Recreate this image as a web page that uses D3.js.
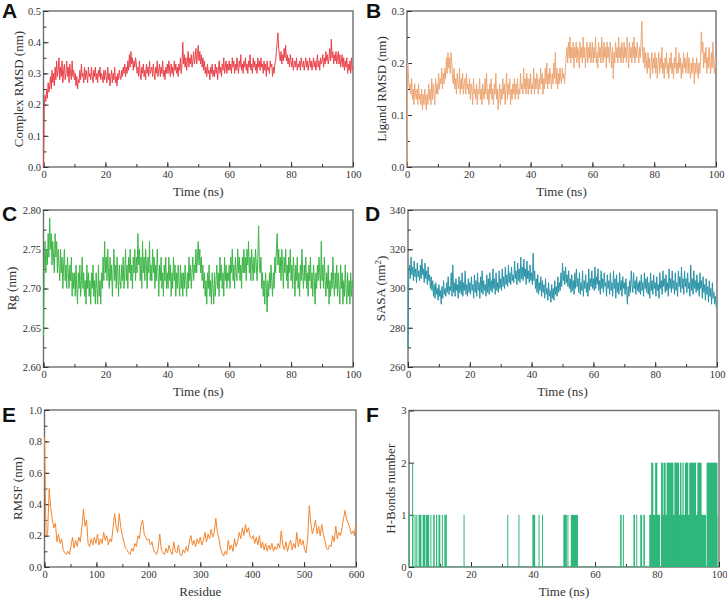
<!DOCTYPE html>
<html>
<head>
<meta charset="utf-8">
<script src="https://cdn.jsdelivr.net/npm/d3@7"></script>
<style>
  body { margin: 0; background: #fff; }
  svg { display: block; }
  text { font-family: "Liberation Serif", "Times New Roman", serif; font-weight: 400; fill: #333; }
  .letter { font-family: "Liberation Sans", Arial, sans-serif; font-weight: 700; font-size: 21px; fill: #111; }
</style>
</head>
<body>
<svg id="fig" width="727" height="602"></svg>
<script>
// sampling step of the trajectories (ns) and of the RMSF profile (residues)
const timeStep = 0.25;
const residueStep = 3;

// A - complex RMSD (nm), every 0.25 ns
const complexRmsd = [
  0, 0.19, 0.23, 0.21, 0.25, 0.22, 0.27, 0.24, 0.26, 0.29, 0.25, 0.31, 0.27, 0.30, 0.26, 0.32, 0.28, 0.34, 0.29, 0.31,
  0.35, 0.28, 0.32, 0.29, 0.34, 0.27, 0.31, 0.33, 0.28, 0.30, 0.34, 0.29, 0.32, 0.27, 0.33, 0.30, 0.28, 0.34, 0.29, 0.31,
  0.28, 0.30, 0.26, 0.29, 0.25, 0.28, 0.27, 0.31, 0.28, 0.33, 0.29, 0.30, 0.27, 0.32, 0.28, 0.31, 0.29, 0.27, 0.32, 0.29,
  0.30, 0.28, 0.32, 0.29, 0.27, 0.31, 0.29, 0.32, 0.28, 0.30, 0.27, 0.31, 0.29, 0.32, 0.28, 0.30, 0.29, 0.27, 0.31, 0.28,
  0.31, 0.29, 0.27, 0.32, 0.28, 0.30, 0.26, 0.29, 0.31, 0.27, 0.30, 0.28, 0.32, 0.27, 0.29, 0.26, 0.30, 0.28, 0.31, 0.29,
  0.28, 0.31, 0.29, 0.32, 0.30, 0.33, 0.29, 0.32, 0.30, 0.34, 0.31, 0.36, 0.32, 0.37, 0.33, 0.35, 0.31, 0.34, 0.32, 0.35,
  0.33, 0.30, 0.32, 0.29, 0.34, 0.30, 0.28, 0.32, 0.30, 0.33, 0.29, 0.31, 0.28, 0.33, 0.30, 0.32, 0.29, 0.34, 0.30, 0.31,
  0.32, 0.29, 0.33, 0.30, 0.28, 0.32, 0.30, 0.34, 0.29, 0.31, 0.33, 0.29, 0.32, 0.30, 0.34, 0.29, 0.31, 0.28, 0.32, 0.30,
  0.33, 0.30, 0.34, 0.31, 0.29, 0.33, 0.30, 0.32, 0.29, 0.34, 0.31, 0.33, 0.30, 0.32, 0.29, 0.33, 0.31, 0.35, 0.30, 0.33,
  0.40, 0.33, 0.36, 0.32, 0.35, 0.31, 0.34, 0.37, 0.32, 0.35, 0.33, 0.36, 0.32, 0.34, 0.37, 0.33, 0.35, 0.38, 0.33, 0.36,
  0.39, 0.34, 0.37, 0.33, 0.36, 0.32, 0.35, 0.31, 0.34, 0.30, 0.32, 0.29, 0.33, 0.30, 0.31, 0.28, 0.32, 0.30, 0.33, 0.29,
  0.31, 0.29, 0.33, 0.30, 0.32, 0.28, 0.31, 0.34, 0.30, 0.32, 0.29, 0.33, 0.31, 0.35, 0.30, 0.32, 0.34, 0.30, 0.33, 0.31,
  0.34, 0.31, 0.33, 0.30, 0.35, 0.32, 0.34, 0.30, 0.33, 0.31, 0.35, 0.32, 0.30, 0.34, 0.32, 0.36, 0.31, 0.33, 0.30, 0.34,
  0.32, 0.35, 0.31, 0.33, 0.30, 0.34, 0.32, 0.36, 0.31, 0.33, 0.30, 0.35, 0.32, 0.34, 0.31, 0.33, 0.30, 0.35, 0.32, 0.34,
  0.31, 0.35, 0.32, 0.33, 0.30, 0.34, 0.31, 0.33, 0.29, 0.34, 0.31, 0.32, 0.30, 0.34, 0.32, 0.33, 0.29, 0.32, 0.30, 0.33,
  0.34, 0.37, 0.40, 0.43, 0.38, 0.36, 0.34, 0.37, 0.33, 0.36, 0.34, 0.38, 0.35, 0.39, 0.34, 0.36, 0.33, 0.35, 0.32, 0.36,
  0.34, 0.32, 0.35, 0.31, 0.33, 0.34, 0.32, 0.35, 0.31, 0.33, 0.32, 0.34, 0.31, 0.35, 0.33, 0.32, 0.34, 0.31, 0.33, 0.35,
  0.32, 0.34, 0.31, 0.33, 0.35, 0.32, 0.34, 0.31, 0.33, 0.35, 0.32, 0.34, 0.31, 0.33, 0.36, 0.32, 0.34, 0.31, 0.35, 0.33,
  0.34, 0.36, 0.32, 0.35, 0.33, 0.37, 0.34, 0.36, 0.33, 0.35, 0.38, 0.34, 0.41, 0.35, 0.37, 0.33, 0.36, 0.34, 0.37, 0.33,
  0.35, 0.37, 0.33, 0.36, 0.32, 0.34, 0.36, 0.32, 0.35, 0.31, 0.34, 0.32, 0.35, 0.30, 0.33, 0.31, 0.34, 0.30, 0.35, 0.31,
  0.32
];

// B - ligand RMSD (nm)
const ligandRmsd = [
  0, 0.20, 0.17, 0.15, 0.16, 0.14, 0.17, 0.13, 0.15, 0.12, 0.16, 0.14, 0.13, 0.15, 0.12, 0.16, 0.13, 0.14, 0.12, 0.15,
  0.11, 0.14, 0.12, 0.15, 0.13, 0.11, 0.14, 0.12, 0.16, 0.13, 0.15, 0.12, 0.17, 0.13, 0.16, 0.14, 0.12, 0.17, 0.14, 0.16,
  0.14, 0.18, 0.15, 0.17, 0.16, 0.19, 0.15, 0.18, 0.16, 0.19, 0.17, 0.21, 0.18, 0.22, 0.19, 0.21, 0.18, 0.22, 0.20, 0.17,
  0.16, 0.19, 0.15, 0.17, 0.14, 0.18, 0.16, 0.15, 0.19, 0.14, 0.17, 0.15, 0.18, 0.14, 0.16, 0.17, 0.14, 0.18, 0.15, 0.16,
  0.14, 0.17, 0.13, 0.16, 0.15, 0.12, 0.17, 0.14, 0.15, 0.13, 0.16, 0.12, 0.15, 0.14, 0.17, 0.13, 0.15, 0.12, 0.16, 0.14,
  0.13, 0.17, 0.14, 0.18, 0.13, 0.15, 0.12, 0.16, 0.14, 0.17, 0.13, 0.15, 0.12, 0.16, 0.14, 0.18, 0.13, 0.15, 0.11, 0.14,
  0.16, 0.12, 0.15, 0.13, 0.17, 0.14, 0.16, 0.12, 0.15, 0.18, 0.13, 0.16, 0.14, 0.17, 0.12, 0.15, 0.13, 0.16, 0.14, 0.17,
  0.13, 0.16, 0.14, 0.17, 0.13, 0.15, 0.14, 0.18, 0.15, 0.16, 0.14, 0.19, 0.15, 0.17, 0.14, 0.18, 0.16, 0.14, 0.17, 0.15,
  0.18, 0.14, 0.16, 0.15, 0.19, 0.14, 0.17, 0.15, 0.18, 0.16, 0.14, 0.17, 0.15, 0.19, 0.16, 0.18, 0.14, 0.17, 0.15, 0.19,
  0.16, 0.20, 0.15, 0.18, 0.16, 0.19, 0.17, 0.15, 0.18, 0.16, 0.20, 0.17, 0.22, 0.16, 0.19, 0.15, 0.18, 0.16, 0.19, 0.17,
  0.16, 0.19, 0.17, 0.18, 0.16, 0.19, 0.21, 0.23, 0.20, 0.24, 0.21, 0.25, 0.20, 0.23, 0.21, 0.24, 0.19, 0.23, 0.21, 0.24,
  0.20, 0.23, 0.22, 0.19, 0.24, 0.21, 0.23, 0.20, 0.25, 0.21, 0.23, 0.19, 0.22, 0.24, 0.20, 0.23, 0.21, 0.24, 0.20, 0.22,
  0.24, 0.20, 0.23, 0.21, 0.25, 0.20, 0.22, 0.19, 0.24, 0.21, 0.23, 0.20, 0.25, 0.22, 0.20, 0.24, 0.21, 0.23, 0.19, 0.24,
  0.21, 0.23, 0.20, 0.24, 0.22, 0.19, 0.23, 0.17, 0.22, 0.20, 0.24, 0.21, 0.23, 0.20, 0.25, 0.21, 0.23, 0.20, 0.24, 0.22,
  0.20, 0.24, 0.21, 0.23, 0.20, 0.25, 0.22, 0.19, 0.24, 0.21, 0.23, 0.20, 0.24, 0.21, 0.25, 0.20, 0.23, 0.21, 0.24, 0.22,
  0.20, 0.23, 0.21, 0.24, 0.28, 0.22, 0.20, 0.23, 0.19, 0.22, 0.20, 0.18, 0.22, 0.19, 0.21, 0.17, 0.20, 0.22, 0.18, 0.21,
  0.19, 0.22, 0.18, 0.21, 0.17, 0.20, 0.22, 0.18, 0.21, 0.19, 0.23, 0.18, 0.20, 0.17, 0.21, 0.19, 0.22, 0.18, 0.20, 0.17,
  0.21, 0.19, 0.22, 0.18, 0.20, 0.17, 0.21, 0.19, 0.23, 0.18, 0.20, 0.18, 0.22, 0.19, 0.21, 0.17, 0.20, 0.18, 0.22, 0.19,
  0.21, 0.18, 0.20, 0.22, 0.18, 0.21, 0.19, 0.17, 0.20, 0.18, 0.21, 0.19, 0.16, 0.20, 0.18, 0.21, 0.19, 0.17, 0.20, 0.18,
  0.21, 0.26, 0.22, 0.24, 0.19, 0.22, 0.20, 0.23, 0.18, 0.21, 0.19, 0.23, 0.20, 0.18, 0.22, 0.19, 0.24, 0.20, 0.18, 0.21,
  0.19
];

// C - radius of gyration (nm)
const gyration = [
  2.64, 2.73, 2.76, 2.72, 2.75, 2.73, 2.77, 2.74, 2.79, 2.75, 2.77, 2.73, 2.76, 2.74, 2.72, 2.77, 2.74, 2.76, 2.72, 2.75,
  2.73, 2.71, 2.75, 2.72, 2.74, 2.70, 2.73, 2.75, 2.71, 2.73, 2.70, 2.74, 2.72, 2.70, 2.73, 2.71, 2.74, 2.69, 2.72, 2.70,
  2.72, 2.69, 2.73, 2.70, 2.68, 2.72, 2.70, 2.73, 2.69, 2.71, 2.74, 2.70, 2.72, 2.69, 2.71, 2.68, 2.73, 2.70, 2.72, 2.69,
  2.71, 2.68, 2.72, 2.70, 2.73, 2.69, 2.71, 2.68, 2.72, 2.70, 2.68, 2.73, 2.69, 2.71, 2.68, 2.72, 2.70, 2.74, 2.71, 2.76,
  2.72, 2.74, 2.71, 2.75, 2.72, 2.70, 2.74, 2.71, 2.73, 2.69, 2.72, 2.75, 2.71, 2.73, 2.70, 2.74, 2.72, 2.69, 2.73, 2.71,
  2.70, 2.73, 2.71, 2.74, 2.70, 2.72, 2.75, 2.71, 2.73, 2.70, 2.74, 2.72, 2.75, 2.71, 2.73, 2.70, 2.74, 2.72, 2.75, 2.71,
  2.74, 2.72, 2.77, 2.73, 2.75, 2.71, 2.74, 2.70, 2.76, 2.72, 2.74, 2.71, 2.75, 2.73, 2.70, 2.74, 2.72, 2.76, 2.71, 2.73,
  2.71, 2.75, 2.72, 2.74, 2.70, 2.73, 2.71, 2.75, 2.72, 2.69, 2.73, 2.71, 2.74, 2.70, 2.72, 2.69, 2.73, 2.71, 2.74, 2.70,
  2.72, 2.70, 2.74, 2.71, 2.73, 2.69, 2.72, 2.70, 2.74, 2.71, 2.73, 2.69, 2.72, 2.70, 2.73, 2.71, 2.69, 2.73, 2.70, 2.72,
  2.69, 2.72, 2.70, 2.73, 2.71, 2.69, 2.72, 2.70, 2.74, 2.71, 2.73, 2.70, 2.72, 2.74, 2.71, 2.73, 2.72, 2.75, 2.72, 2.74,
  2.76, 2.73, 2.75, 2.72, 2.74, 2.71, 2.73, 2.70, 2.72, 2.69, 2.71, 2.68, 2.72, 2.70, 2.73, 2.69, 2.71, 2.68, 2.72, 2.70,
  2.68, 2.72, 2.69, 2.71, 2.73, 2.70, 2.72, 2.69, 2.74, 2.71, 2.73, 2.70, 2.72, 2.69, 2.74, 2.71, 2.73, 2.70, 2.72, 2.71,
  2.73, 2.70, 2.74, 2.72, 2.75, 2.71, 2.73, 2.70, 2.74, 2.72, 2.71, 2.75, 2.72, 2.74, 2.71, 2.73, 2.70, 2.74, 2.72, 2.75,
  2.72, 2.74, 2.71, 2.75, 2.73, 2.76, 2.72, 2.74, 2.71, 2.75, 2.73, 2.71, 2.74, 2.72, 2.75, 2.73, 2.71, 2.74, 2.78, 2.73,
  2.72, 2.74, 2.70, 2.72, 2.69, 2.71, 2.68, 2.72, 2.70, 2.67, 2.71, 2.69, 2.72, 2.70, 2.73, 2.71, 2.69, 2.72, 2.70, 2.74,
  2.72, 2.75, 2.77, 2.73, 2.75, 2.72, 2.74, 2.71, 2.75, 2.73, 2.70, 2.74, 2.72, 2.75, 2.71, 2.73, 2.70, 2.74, 2.72, 2.75,
  2.71, 2.73, 2.70, 2.74, 2.72, 2.69, 2.73, 2.71, 2.74, 2.70, 2.72, 2.69, 2.73, 2.71, 2.75, 2.72, 2.70, 2.73, 2.71, 2.74,
  2.70, 2.72, 2.69, 2.73, 2.71, 2.74, 2.70, 2.72, 2.69, 2.73, 2.71, 2.68, 2.72, 2.70, 2.73, 2.71, 2.74, 2.72, 2.70, 2.76,
  2.71, 2.73, 2.70, 2.74, 2.71, 2.69, 2.72, 2.70, 2.73, 2.68, 2.71, 2.69, 2.72, 2.70, 2.74, 2.71, 2.69, 2.72, 2.70, 2.73,
  2.69, 2.72, 2.70, 2.68, 2.73, 2.70, 2.72, 2.68, 2.71, 2.69, 2.73, 2.70, 2.68, 2.72, 2.69, 2.71, 2.68, 2.72, 2.69, 2.71,
  2.70
];

// D - solvent accessible surface area (nm^2)
const sasa = [
  270, 308, 312, 305, 316, 307, 311, 304, 314, 306, 310, 303, 313, 306, 309, 304, 312, 305, 315, 307,
  310, 303, 313, 305, 309, 302, 311, 304, 307, 300, 306, 299, 304, 296, 302, 295, 303, 297, 300, 294,
  302, 296, 299, 292, 301, 295, 304, 297, 300, 296, 303, 298, 306, 297, 301, 299, 308, 296, 312, 298,
  303, 296, 305, 299, 302, 295, 306, 298, 304, 297, 308, 296, 303, 299, 309, 297, 302, 296, 305, 298,
  303, 297, 306, 299, 302, 295, 307, 298, 304, 296, 308, 299, 303, 295, 306, 298, 309, 297, 304, 299,
  302, 296, 307, 298, 305, 297, 308, 299, 304, 298, 310, 300, 305, 297, 308, 299, 303, 298, 309, 300,
  305, 299, 310, 301, 306, 300, 311, 302, 307, 301, 312, 303, 308, 302, 311, 304, 307, 303, 314, 305,
  309, 302, 313, 304, 310, 303, 316, 305, 311, 304, 315, 306, 310, 302, 314, 305, 309, 303, 312, 304,
  308, 302, 318, 304, 309, 300, 305, 298, 307, 297, 303, 299, 306, 296, 304, 298, 302, 295, 305, 297,
  300, 294, 303, 296, 299, 293, 302, 295, 300, 294, 304, 297, 301, 296, 306, 298, 303, 299, 308, 301,
  313, 304, 309, 302, 311, 303, 307, 301, 309, 300, 305, 298, 307, 299, 304, 297, 308, 300, 310, 301,
  305, 298, 308, 297, 303, 299, 309, 296, 304, 300, 307, 298, 303, 296, 310, 299, 305, 301, 309, 300,
  305, 299, 311, 300, 306, 302, 310, 299, 304, 297, 309, 300, 305, 298, 308, 301, 303, 296, 307, 300,
  304, 297, 308, 299, 303, 296, 309, 300, 305, 295, 307, 298, 303, 297, 308, 299, 304, 296, 306, 300,
  303, 297, 305, 299, 292, 301, 296, 304, 298, 309, 302, 298, 308, 300, 304, 297, 306, 299, 303, 298,
  304, 297, 307, 299, 303, 296, 308, 300, 305, 298, 306, 297, 303, 295, 308, 299, 304, 297, 307, 300,
  303, 296, 306, 299, 302, 295, 308, 300, 304, 297, 309, 301, 305, 298, 307, 299, 303, 296, 310, 300,
  305, 298, 309, 300, 304, 297, 308, 299, 303, 296, 309, 301, 306, 298, 311, 300, 305, 297, 309, 301,
  305, 298, 308, 300, 303, 296, 312, 299, 305, 297, 309, 300, 304, 298, 307, 299, 303, 296, 308, 300,
  304, 295, 306, 298, 302, 294, 305, 297, 301, 293, 304, 296, 300, 292, 303, 295, 298, 292, 296, 291,
  290
];

// E - RMSF per residue (nm), every 3 residues
const rmsf = [
  0.83, 0.20, 0.21, 0.50, 0.38, 0.30, 0.25, 0.28, 0.16, 0.21,
  0.15, 0.18, 0.11, 0.09, 0.08, 0.10, 0.08, 0.13, 0.19, 0.12,
  0.17, 0.13, 0.19, 0.16, 0.25, 0.37, 0.26, 0.30, 0.15, 0.13,
  0.18, 0.14, 0.19, 0.15, 0.21, 0.14, 0.18, 0.15, 0.22, 0.17,
  0.20, 0.14, 0.18, 0.16, 0.25, 0.34, 0.26, 0.22, 0.34, 0.25,
  0.20, 0.16, 0.12, 0.11, 0.09, 0.08, 0.12, 0.10, 0.15, 0.13,
  0.20, 0.18, 0.27, 0.30, 0.21, 0.19, 0.17, 0.18, 0.14, 0.16,
  0.11, 0.09, 0.08, 0.12, 0.21, 0.11, 0.09, 0.08, 0.12, 0.09,
  0.14, 0.10, 0.08, 0.16, 0.10, 0.09, 0.14, 0.08, 0.07, 0.11,
  0.09, 0.13, 0.10, 0.16, 0.20, 0.14, 0.17, 0.13, 0.18, 0.15,
  0.19, 0.14, 0.17, 0.22, 0.16, 0.21, 0.18, 0.24, 0.19, 0.22,
  0.31, 0.22, 0.18, 0.12, 0.09, 0.07, 0.10, 0.08, 0.17, 0.11,
  0.14, 0.10, 0.18, 0.13, 0.16, 0.22, 0.18, 0.25, 0.20, 0.27,
  0.22, 0.25, 0.19, 0.18, 0.20, 0.15, 0.19, 0.14, 0.20, 0.12,
  0.16, 0.11, 0.15, 0.10, 0.14, 0.11, 0.15, 0.10, 0.13, 0.11,
  0.15, 0.12, 0.23, 0.14, 0.11, 0.16, 0.10, 0.14, 0.17, 0.11,
  0.15, 0.12, 0.22, 0.13, 0.18, 0.14, 0.17, 0.11, 0.09, 0.19,
  0.39, 0.28, 0.21, 0.25, 0.30, 0.21, 0.26, 0.20, 0.27, 0.21,
  0.17, 0.12, 0.11, 0.14, 0.13, 0.20, 0.16, 0.26, 0.18, 0.22,
  0.20, 0.25, 0.31, 0.36, 0.30, 0.28, 0.25, 0.21, 0.23, 0.20,
  0.29
];

// F - hydrogen bonds: spans [from, to] (ns) holding the given count
const hbFrom = [
  0, 1.0, 1.8, 2.35, 3.1, 4.4, 5.5, 6.9, 7.8, 8.7, 9.5, 10.6, 11.4, 17.6,
  31.7, 35.3, 39.8, 41.8, 42.9, 49.8, 51.1, 52.2, 68.1, 69.0, 72.4, 73.3,
  74.6, 75.6, 77.5, 81.3, 83.7, 86.2, 96.1, 97.5, 98.4,
  1.0, 78.1, 79.4, 81.3, 82.1, 83.1, 85.6, 87.4, 88.2, 89.0, 90.4, 93.0, 96.0
];
const hbTo = [
  0.3, 1.4, 2.0, 2.7, 4.0, 5.3, 6.5, 7.2, 8.3, 9.1, 10.1, 10.9, 12.2, 17.9,
  32.0, 35.5, 40.7, 42.0, 43.1, 50.9, 51.4, 54.5, 68.6, 69.2, 72.9, 73.5,
  75.2, 76.1, 81.0, 83.5, 86.0, 95.8, 97.3, 98.2, 99.5,
  1.1, 78.8, 80.1, 81.9, 82.8, 85.3, 87.1, 87.9, 88.6, 90.1, 92.6, 94.4, 99.5
];
const hbCount = [
  1, 1, 1, 1, 1, 1, 1, 1, 1, 1, 1, 1, 1, 1,
  1, 1, 1, 1, 1, 1, 1, 1, 1, 1, 1, 1,
  1, 1, 1, 1, 1, 1, 1, 1, 1,
  2, 2, 2, 2, 2, 2, 2, 2, 2, 2, 2, 2, 2
];

const svg = d3.select('#fig');
svg.append('rect').attr('width', 727).attr('height', 602).attr('fill', '#fff');

function ticksBetween(lo, hi, step) {
  const n = Math.round((hi - lo) / step);
  return d3.range(n + 1).map(i => +(lo + i * step).toFixed(6));
}

function drawPanel(p) {
  const [x0, x1, y0, y1] = p.box;
  const x = d3.scaleLinear().domain(p.xDomain).range([x0, x1]);
  const y = d3.scaleLinear().domain(p.yDomain).range([y1, y0]);
  const g = svg.append('g');

  // frame first, so the traces sit on top of it as in the original
  g.append('rect')
    .attr('x', x0).attr('y', y0)
    .attr('width', x1 - x0).attr('height', y1 - y0)
    .attr('fill', 'none').attr('stroke', '#6e6e6e').attr('stroke-width', 1.4);

  // axes with inward ticks
  const xAxis = d3.axisBottom(x)
    .tickValues(ticksBetween(p.xDomain[0], p.xDomain[1], p.xMajor))
    .tickFormat(d3.format('d'))
    .tickSizeInner(-5).tickSizeOuter(0).tickPadding(3.5);
  const xMinor = d3.axisBottom(x)
    .tickValues(ticksBetween(p.xDomain[0], p.xDomain[1], p.xMinor))
    .tickFormat('').tickSizeInner(-3).tickSizeOuter(0);
  const yAxis = d3.axisLeft(y)
    .tickValues(ticksBetween(p.yDomain[0], p.yDomain[1], p.yMajor))
    .tickFormat(d3.format(p.yFormat))
    .tickSizeInner(-5).tickSizeOuter(0).tickPadding(2.5);

  const axes = [
    g.append('g').attr('transform', `translate(0,${y1})`).call(xAxis),
    g.append('g').attr('transform', `translate(0,${y1})`).call(xMinor),
    g.append('g').attr('transform', `translate(${x0},0)`).call(yAxis)
  ];
  if (p.yMinor) {
    const yMinor = d3.axisLeft(y)
      .tickValues(ticksBetween(p.yDomain[0], p.yDomain[1], p.yMinor))
      .tickFormat('').tickSizeInner(-3).tickSizeOuter(0);
    axes.push(g.append('g').attr('transform', `translate(${x0},0)`).call(yMinor));
  }
  axes.forEach(a => {
    a.select('.domain').remove();
    a.selectAll('line').attr('stroke', '#333');
    a.selectAll('text').attr('font-family', '"Liberation Serif", serif').attr('font-size', 10.5).attr('fill', '#333');
  });

  const clipId = 'clip' + p.letter;
  g.append('clipPath').attr('id', clipId)
    .append('rect').attr('x', x0 - 1).attr('y', y0 - 1).attr('width', x1 - x0 + 1).attr('height', y1 - y0 + 1);

  const plot = g.append('g').attr('clip-path', `url(#${clipId})`);

  if (p.series) {
    const line = d3.line()
      .x((d, i) => x(i * p.step))
      .y(d => y(d));
    plot.append('path')
      .datum(p.series)
      .attr('fill', 'none')
      .attr('stroke', p.color)
      .attr('stroke-width', 1)
      .attr('stroke-linejoin', 'round')
      .attr('d', line);
  }

  if (p.bars) {
    plot.append('line')
      .attr('x1', x(0)).attr('x2', x(100))
      .attr('y1', y(0)).attr('y2', y(0))
      .attr('stroke', p.color).attr('stroke-width', 1.2);
    plot.selectAll('rect.hb')
      .data(d3.range(hbFrom.length))
      .enter().append('rect')
      .attr('class', 'hb')
      .attr('x', i => x(hbFrom[i]))
      .attr('width', i => Math.max(1, x(hbTo[i]) - x(hbFrom[i])))
      .attr('y', i => y(hbCount[i]))
      .attr('height', i => y(0) - y(hbCount[i]))
      .attr('fill', p.color);
  }

  // titles
  g.append('text')
    .attr('x', (x0 + x1) / 2).attr('y', y1 + 28.5)
    .attr('text-anchor', 'middle').attr('font-size', 13)
    .text(p.xTitle);

  const yt = g.append('text')
    .attr('transform', `translate(${p.yTitleX},${(y0 + y1) / 2}) rotate(-90)`)
    .attr('text-anchor', 'middle').attr('dy', '0.35em').attr('font-size', 13)
    .text(p.yTitle);
  if (p.ySup) {
    yt.append('tspan').attr('dy', '-0.45em').attr('font-size', 9).text(p.ySup);
    yt.append('tspan').attr('dy', '0.45em').text(')');
  }

  g.append('text').attr('class', 'letter')
    .attr('x', p.letterPos[0]).attr('y', p.letterPos[1])
    .text(p.letter);
}

const panels = [
  { letter: 'A', letterPos: [2, 18], box: [43.5, 353, 11, 167],
    xDomain: [0, 100], xMajor: 20, xMinor: 10, yDomain: [0, 0.5], yMajor: 0.1, yMinor: 0.05, yFormat: '.1f',
    xTitle: 'Time (ns)', yTitle: 'Complex RMSD (nm)', yTitleX: 18,
    series: complexRmsd, step: timeStep, color: '#e9434b' },
  { letter: 'B', letterPos: [366, 18], box: [407, 716, 11, 167],
    xDomain: [0, 100], xMajor: 20, xMinor: 10, yDomain: [0, 0.3], yMajor: 0.1, yMinor: 0.05, yFormat: '.1f',
    xTitle: 'Time (ns)', yTitle: 'Ligand RMSD (nm)', yTitleX: 381,
    series: ligandRmsd, step: timeStep, color: '#eda776' },
  { letter: 'C', letterPos: [2, 220.5], box: [43.5, 353, 210, 367],
    xDomain: [0, 100], xMajor: 20, xMinor: 10, yDomain: [2.6, 2.8], yMajor: 0.05, yMinor: 0.025, yFormat: '.2f',
    xTitle: 'Time (ns)', yTitle: 'Rg (nm)', yTitleX: 11.5,
    series: gyration, step: timeStep, color: '#3db548' },
  { letter: 'D', letterPos: [365, 220.5], box: [408, 717, 210, 367],
    xDomain: [0, 100], xMajor: 20, xMinor: 10, yDomain: [260, 340], yMajor: 20, yMinor: 10, yFormat: 'd',
    xTitle: 'Time (ns)', yTitle: 'SASA (nm', ySup: '2', yTitleX: 380,
    series: sasa, step: timeStep, color: '#2b94a8' },
  { letter: 'E', letterPos: [2, 421.5], box: [44.5, 356, 410, 567],
    xDomain: [0, 600], xMajor: 100, xMinor: 50, yDomain: [0, 1], yMajor: 0.2, yMinor: 0.1, yFormat: '.1f',
    xTitle: 'Residue', yTitle: 'RMSF (nm)', yTitleX: 17,
    series: rmsf, step: residueStep, color: '#f2852f' },
  { letter: 'F', letterPos: [366, 421.5], box: [409, 719, 410.5, 567],
    xDomain: [0, 100], xMajor: 20, xMinor: 10, yDomain: [0, 3], yMajor: 1, yMinor: null, yFormat: 'd',
    xTitle: 'Time (ns)', yTitle: 'H-Bonds number', yTitleX: 390,
    bars: true, color: '#2fb77b' }
];

panels.forEach(drawPanel);
</script>
</body>
</html>
